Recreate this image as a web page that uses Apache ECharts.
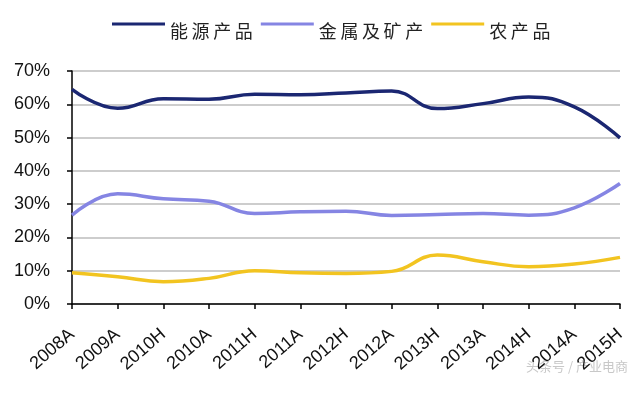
<!DOCTYPE html>
<html><head><meta charset="utf-8">
<script src="https://cdn.jsdelivr.net/npm/echarts@6/dist/echarts.min.js"></script>
<style>html,body{margin:0;padding:0;background:#fff}#c{width:640px;height:393px}</style>
</head><body><div id="c"></div>
<script>
var categories = ['2008A','2009A','2010H','2010A','2011H','2011A','2012H','2012A','2013H','2013A','2014H','2014A','2015H'];
var energy = [64.5, 58.8, 61.7, 61.5, 63.0, 62.9, 63.4, 64.0, 58.7, 60.2, 62.2, 59.2, 49.9];
var metals = [26.7, 33.1, 31.6, 30.9, 27.2, 27.7, 27.9, 26.6, 26.9, 27.2, 26.7, 28.9, 36.2];
var agri = [9.4, 8.2, 6.7, 7.7, 10.0, 9.4, 9.2, 9.8, 14.7, 12.7, 11.2, 12.0, 14.0];
var seriesNames = ['能源产品','金属及矿产','农产品'];
var colors = ['#1b2772','#8585e3','#f2c420'];

var chart = echarts.init(document.getElementById('c'));
function mk(name, data, color){
  return {name:name, type:'line', data:data, smooth:0.45, symbol:'none',
    lineStyle:{width:3.5, color:color}, itemStyle:{color:color}};
}
chart.setOption({
  animation:false,
  color:colors,
  legend:{top:17, left:107, itemWidth:53, itemHeight:17, itemGap:8,
    icon:'path://M0,0H53V3H0Z M0,17L0.01,17',
    textStyle:{fontFamily:'"Noto Sans CJK SC"', fontSize:18, color:'#222'},
    formatter:function(n){return n.split('').join('\u2009');},
    data:seriesNames},
  grid:{left:72, right:20, top:71, bottom:89},
  xAxis:{type:'category', data:categories, boundaryGap:false,
    axisLine:{lineStyle:{color:'#000', width:1.5}},
    axisTick:{show:true, length:5, lineStyle:{color:'#000', width:1.5}},
    axisLabel:{rotate:41, interval:0, fontFamily:'"Liberation Sans", Arial', fontSize:18, color:'#111', margin:28}},
  yAxis:{type:'value', min:0, max:70, interval:10,
    axisLine:{show:true, lineStyle:{color:'#000', width:1.5}},
    axisTick:{show:true, length:5, lineStyle:{color:'#000', width:1.5}},
    splitLine:{lineStyle:{color:'#bdbdbd', width:1.5}},
    axisLabel:{formatter:'{value}%', fontFamily:'"Liberation Sans", Arial', fontSize:18, color:'#111', margin:22}},
  graphic:[{type:'text', right:12, top:360, style:{text:'头条号 / 产业电商', fill:'#c8c8c8', font:'13px "Noto Sans CJK SC"'}}],
  series:[mk(seriesNames[0], energy, colors[0]), mk(seriesNames[1], metals, colors[1]), mk(seriesNames[2], agri, colors[2])]
});
</script></body></html>
